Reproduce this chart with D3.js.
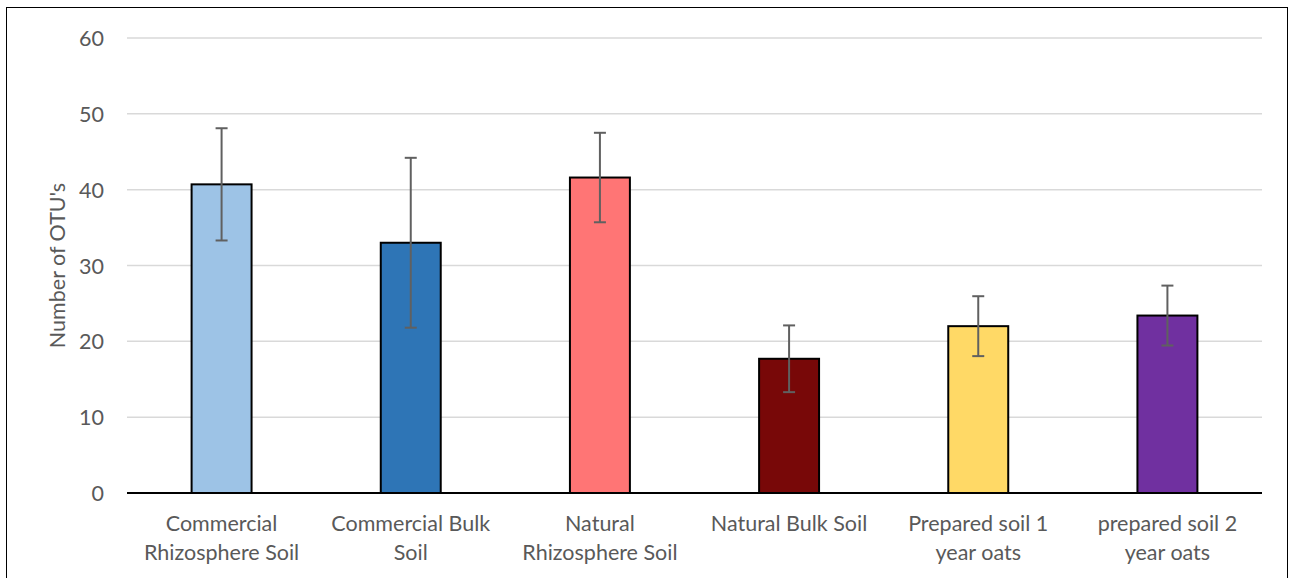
<!DOCTYPE html>
<html>
<head>
<meta charset="utf-8">
<script src="https://cdn.jsdelivr.net/npm/d3@7"></script>
<style>
  html, body { margin: 0; padding: 0; background: #fff; }
  svg { display: block; font-family: Lato, "Open Sans", sans-serif; }
</style>
</head>
<body>
<div id="chart"></div>
<script>
const categories = [
  'Commercial Rhizosphere Soil', 'Commercial Bulk Soil', 'Natural Rhizosphere Soil',
  'Natural Bulk Soil', 'Prepared soil 1 year oats', 'prepared soil 2 year oats'
];
const labelLines = [
  ['Commercial', 'Rhizosphere Soil'],
  ['Commercial Bulk', 'Soil'],
  ['Natural', 'Rhizosphere Soil'],
  ['Natural Bulk Soil'],
  ['Prepared soil 1', 'year oats'],
  ['prepared soil 2', 'year oats']
];
const values = [40.7, 33.0, 41.6, 17.7, 22.0, 23.4];
const errors = [7.4, 11.2, 5.9, 4.4, 3.95, 3.95];
const barColors = ['#9DC3E6', '#2E75B6', '#FF7575', '#780808', '#FFD966', '#7030A0'];
const yTicks = [0, 10, 20, 30, 40, 50, 60];

const width = 1290, height = 578;
const margin = { left: 127, right: 28, top: 38, bottom: 85 };

const svg = d3.select('#chart').append('svg')
  .attr('width', width).attr('height', height);

// outer frame
svg.append('rect')
  .attr('x', 6.5).attr('y', 7.5)
  .attr('width', 1281).attr('height', 600)
  .attr('fill', 'none').attr('stroke', '#000').attr('stroke-width', 1);

const x = d3.scaleBand()
  .domain(categories)
  .range([margin.left, width - margin.right])
  .paddingInner(0.683).paddingOuter(0.3415);

const y = d3.scaleLinear().domain([0, 60]).range([height - margin.bottom, margin.top]);

// gridlines
svg.append('g').selectAll('line').data(yTicks.filter(d => d > 0)).join('line')
  .attr('x1', margin.left).attr('x2', width - margin.right)
  .attr('y1', d => y(d)).attr('y2', d => y(d))
  .attr('stroke', '#d9d9d9').attr('stroke-width', 1.5);

// y tick labels
svg.append('g').selectAll('text').data(yTicks).join('text')
  .attr('x', 104).attr('y', d => y(d))
  .attr('text-anchor', 'end').attr('dominant-baseline', 'central')
  .attr('fill', '#595959').attr('font-size', 21.5)
  .text(d => d);

// y axis title
svg.append('text')
  .attr('transform', `translate(57, ${(y(0) + y(60)) / 2}) rotate(-90)`)
  .attr('text-anchor', 'middle').attr('dominant-baseline', 'central')
  .attr('fill', '#595959').attr('font-size', 21.5)
  .text("Number of OTU's");

// bars
svg.append('g').selectAll('rect').data(categories).join('rect')
  .attr('x', d => x(d)).attr('width', x.bandwidth())
  .attr('y', (d, i) => y(values[i]))
  .attr('height', (d, i) => y(0) - y(values[i]))
  .attr('fill', (d, i) => barColors[i])
  .attr('stroke', '#000').attr('stroke-width', 2);

// x axis line
svg.append('line')
  .attr('x1', margin.left).attr('x2', width - margin.right)
  .attr('y1', y(0)).attr('y2', y(0))
  .attr('stroke', '#000').attr('stroke-width', 2);

// error bars
const eb = svg.append('g').attr('stroke', '#606060').attr('stroke-width', 2);
categories.forEach((c, i) => {
  const cx = x(c) + x.bandwidth() / 2;
  const hi = y(values[i] + errors[i]), lo = y(values[i] - errors[i]);
  eb.append('line').attr('x1', cx).attr('x2', cx).attr('y1', hi).attr('y2', lo);
  eb.append('line').attr('x1', cx - 6).attr('x2', cx + 6).attr('y1', hi).attr('y2', hi);
  eb.append('line').attr('x1', cx - 6).attr('x2', cx + 6).attr('y1', lo).attr('y2', lo);
});

// category labels
const lab = svg.append('g').attr('fill', '#595959').attr('font-size', 21.5).attr('text-anchor', 'middle');
categories.forEach((c, i) => {
  const cx = x(c) + x.bandwidth() / 2;
  labelLines[i].forEach((ln, j) => {
    lab.append('text').attr('x', cx).attr('y', 531 + j * 29).text(ln);
  });
});
</script>
</body>
</html>
